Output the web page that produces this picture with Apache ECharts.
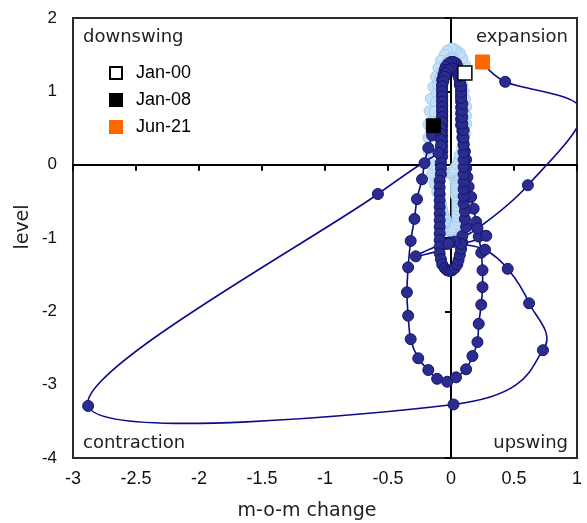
<!DOCTYPE html>
<html>
<head>
<meta charset="utf-8">
<script src="https://cdn.jsdelivr.net/npm/echarts@6/dist/echarts.min.js"></script>
<style>
html,body{margin:0;padding:0;background:#fff;}
#chart{width:587px;height:523px;}
</style>
</head>
<body>
<div id="chart"></div>
<script>
// ---------------- DATA ----------------
const xTicks = [-3, -2.5, -2, -1.5, -1, -0.5, 0, 0.5, 1];
const yTicks = [-4, -3, -2, -1, 0, 1, 2];

// Jan-00 .. Dec-07 (light blue): m-o-m change and level
const lightChange = [
  0.11,0.11,0.09,0.07,0.04,0.02,0.00,-0.03,-0.05,-0.08,-0.10,-0.12,
  -0.14,-0.16,-0.17,-0.18,-0.18,-0.18,-0.17,-0.15,-0.13,-0.11,-0.09,-0.08,
  -0.07,-0.06,-0.05,-0.04,-0.04,-0.03,-0.03,-0.02,-0.02,-0.01,0.00,0.01,
  0.02,0.03,0.04,0.05,0.05,0.05,0.05,0.05,0.05,0.05,0.04,0.04,
  0.04,0.04,0.04,0.04,0.03,0.03,0.02,0.02,0.01,0.00,-0.01,0.01,
  0.00,0.01,0.02,0.03,0.05,0.06,0.07,0.09,0.10,0.11,0.12,0.12,
  0.12,0.11,0.10,0.09,0.08,0.07,0.06,0.05,0.04,0.03,0.02,0.01,
  0.00,-0.01,-0.02,-0.03,-0.05,-0.07,-0.09,-0.10,-0.11,-0.12,-0.13,-0.14
];
const lightLevel = [
  1.25,1.36,1.45,1.52,1.56,1.58,1.58,1.55,1.50,1.42,1.32,1.20,
  1.06,0.90,0.73,0.55,0.37,0.19,0.02,-0.13,-0.26,-0.37,-0.46,-0.54,
  -0.61,-0.67,-0.72,-0.76,-0.80,-0.83,-0.86,-0.88,-0.90,-0.91,-0.91,-0.90,
  -0.88,-0.85,-0.81,-0.76,-0.71,-0.66,-0.61,-0.56,-0.51,-0.46,-0.42,-0.38,
  -0.34,-0.30,-0.26,-0.22,-0.19,-0.16,-0.14,-0.12,-0.11,-0.11,-0.12,-0.11,
  -0.11,-0.10,-0.08,-0.05,0.00,0.06,0.13,0.22,0.32,0.43,0.55,0.67,
  0.79,0.90,1.00,1.09,1.17,1.24,1.30,1.35,1.39,1.42,1.44,1.45,
  1.45,1.44,1.42,1.39,1.34,1.27,1.18,1.08,0.97,0.85,0.72,0.58
];

// Jan-08 .. Jun-21 (dark blue)
const darkChange = [
  -0.14,-0.15,-0.18,-0.21,-0.23,-0.27,-0.29,-0.32,-0.34,-0.35,-0.34,-0.32,
  -0.26,-0.18,-0.11,-0.03,0.04,0.12,0.17,0.21,0.22,0.24,0.25,0.25,
  0.24,0.22,0.20,0.18,0.16,0.14,0.13,0.12,0.12,0.11,0.10,0.09,
  0.09,0.08,0.08,0.08,0.08,0.08,0.08,0.08,0.07,0.07,0.07,0.06,
  0.05,0.04,0.02,0.00,-0.02,-0.04,-0.05,-0.06,-0.07,-0.07,-0.07,-0.07,
  -0.07,-0.07,-0.07,-0.07,-0.07,-0.07,-0.07,-0.07,-0.07,-0.07,-0.07,-0.07,
  -0.08,-0.08,-0.08,-0.09,-0.09,-0.09,-0.09,-0.09,-0.09,-0.09,-0.09,-0.09,
  -0.09,-0.09,-0.09,-0.08,-0.07,-0.05,-0.03,-0.01,0.01,0.03,0.05,0.06,
  0.07,0.08,0.09,0.09,-0.28,0.28,0.12,0.11,0.11,0.10,0.10,0.10,
  0.10,0.10,0.10,0.10,0.10,0.10,0.10,0.10,0.09,0.09,0.09,0.09,
  0.08,0.08,0.08,0.07,0.06,0.05,0.04,0.02,0.00,-0.02,-0.04,-0.05,
  -0.06,-0.07,-0.07,-0.07,-0.07,-0.07,-0.07,-0.07,-0.07,-0.08,-0.08,-0.08,
  -0.08,-0.10,-0.58,-2.88,0.02,0.73,0.62,0.45,0.27,0.08,0.03,-0.01,
  -0.02,0.21,0.61,1.04,0.43,0.25
];
const darkLevel = [
  0.53,0.40,0.23,0.02,-0.20,-0.47,-0.74,-1.04,-1.40,-1.74,-2.06,-2.38,
  -2.64,-2.80,-2.92,-2.96,-2.90,-2.79,-2.61,-2.42,-2.17,-1.91,-1.67,-1.44,
  -1.20,-0.98,-0.78,-0.60,-0.44,-0.30,-0.17,-0.05,0.07,0.18,0.28,0.37,
  0.46,0.54,0.62,0.70,0.78,0.86,0.94,1.02,1.09,1.16,1.23,1.29,
  1.34,1.38,1.40,1.40,1.38,1.34,1.29,1.23,1.16,1.09,1.02,0.95,
  0.88,0.81,0.74,0.67,0.60,0.53,0.46,0.39,0.32,0.25,0.18,0.11,
  0.03,-0.05,-0.13,-0.22,-0.31,-0.40,-0.49,-0.58,-0.67,-0.76,-0.85,-0.94,
  -1.03,-1.12,-1.21,-1.29,-1.36,-1.41,-1.44,-1.45,-1.44,-1.41,-1.36,-1.30,
  -1.23,-1.15,-1.06,-0.97,-1.25,-0.97,-0.85,-0.74,-0.63,-0.53,-0.43,-0.33,
  -0.23,-0.13,-0.03,0.07,0.17,0.27,0.37,0.47,0.56,0.65,0.74,0.83,
  0.91,0.99,1.07,1.14,1.20,1.25,1.29,1.31,1.31,1.29,1.25,1.20,
  1.14,1.07,1.00,0.93,0.86,0.79,0.72,0.65,0.58,0.50,0.42,0.34,
  0.26,0.16,-0.40,-3.29,-3.27,-2.53,-1.89,-1.42,-1.16,-1.08,-1.05,-1.06,
  -1.08,-0.87,-0.28,0.74,1.13,1.40
];

// highlighted months
const markerNames  = ['Jan-00', 'Jan-08', 'Jun-21'];
const markerChange = [0.11, -0.14, 0.25];
const markerLevel  = [1.25, 0.53, 1.40];

const quadrantLabels = ['downswing', 'expansion', 'contraction', 'upswing'];
const xTitle = 'm-o-m change';
const yTitle = 'level';

// ---------------- STYLE ----------------
const markerStyles = [
  {color: '#ffffff', borderColor: '#000000', borderWidth: 1.5, opacity: 1},
  {color: '#000000', borderColor: '#000000', borderWidth: 1, opacity: 1},
  {color: '#ff6600', borderColor: '#ff6600', borderWidth: 1, opacity: 1}
];
const qFont = {fontFamily: 'DejaVu Sans', fontSize: 18, fill: '#222'};

function pairs(xs, ys) { return xs.map((v, i) => [v, ys[i]]); }

// smoothed (Catmull-Rom style) connecting curve, positioned through the axes via api.coord
function curveSeries(pts, color, width, z) {
  return {
    type: 'custom', coordinateSystem: 'cartesian2d', data: pts,
    encode: {x: 0, y: 1}, clip: true, silent: true, z: z,
    renderItem: function (params, api) {
      const i = params.dataIndex;
      if (i === 0) return null;
      const n = pts.length;
      const c = k => api.coord(pts[Math.max(0, Math.min(n - 1, k))]);
      const p0 = c(i - 2), p1 = c(i - 1), p2 = c(i), p3 = c(i + 1);
      const t = 1 / 6;
      return {
        type: 'bezierCurve',
        shape: {
          x1: p1[0], y1: p1[1], x2: p2[0], y2: p2[1],
          cpx1: p1[0] + (p2[0] - p0[0]) * t, cpy1: p1[1] + (p2[1] - p0[1]) * t,
          cpx2: p2[0] - (p3[0] - p1[0]) * t, cpy2: p2[1] - (p3[1] - p1[1]) * t
        },
        style: {stroke: color, lineWidth: width, fill: 'none'}
      };
    }
  };
}

const chart = echarts.init(document.getElementById('chart'), null, {renderer: 'canvas'});

const lightPts = pairs(lightChange, lightLevel);
const darkPts = pairs(darkChange, darkLevel);

const series = [
  curveSeries(lightPts, '#9fc8ec', 1.5, 2),
  {
    name: 'light', type: 'scatter', data: lightPts, symbol: 'circle', symbolSize: 11,
    itemStyle: {color: '#c6e0f6', borderColor: '#a3cdef', borderWidth: 1, opacity: 1},
    z: 2, clip: true, silent: true
  },
  curveSeries(darkPts, '#0c0c88', 1.6, 3),
  {
    name: 'dark', type: 'scatter', data: darkPts, symbol: 'circle', symbolSize: 11,
    itemStyle: {color: '#2b2d8e', borderColor: '#15156e', borderWidth: 1, opacity: 1},
    z: 3, clip: true, silent: true
  }
];
markerNames.forEach((n, i) => {
  series.push({
    name: n, type: 'scatter', data: [[markerChange[i], markerLevel[i]]],
    symbol: 'rect', symbolSize: 14, itemStyle: markerStyles[i], z: 5, silent: true
  });
});

const option = {
  animation: false,
  grid: {left: 73, top: 18, width: 504, height: 440, show: true,
         borderColor: '#2a2a2a', borderWidth: 2, backgroundColor: 'transparent'},
  xAxis: [
    {type: 'value', min: xTicks[0], max: xTicks[xTicks.length - 1], interval: 0.5,
     position: 'bottom',
     axisLine: {show: false, onZero: false}, axisTick: {show: false}, splitLine: {show: false},
     axisLabel: {margin: 12, fontFamily: 'Liberation Sans', fontSize: 18, color: '#111'}},
    {type: 'value', min: xTicks[0], max: xTicks[xTicks.length - 1], interval: 0.5,
     position: 'top',
     axisLine: {show: true, onZero: true, onZeroAxisIndex: 0, lineStyle: {color: '#000', width: 2}},
     axisTick: {show: true, inside: true, length: 6, lineStyle: {color: '#000', width: 2}},
     axisLabel: {show: false}, splitLine: {show: false}}
  ],
  yAxis: [
    {type: 'value', min: yTicks[0], max: yTicks[yTicks.length - 1], interval: 1,
     position: 'left',
     axisLine: {show: false, onZero: false}, axisTick: {show: false}, splitLine: {show: false},
     axisLabel: {margin: 16, fontFamily: 'Liberation Sans', fontSize: 17, color: '#111'}},
    {type: 'value', min: yTicks[0], max: yTicks[yTicks.length - 1], interval: 1,
     position: 'right',
     axisLine: {show: true, onZero: true, onZeroAxisIndex: 0, lineStyle: {color: '#000', width: 2}},
     axisTick: {show: true, inside: true, length: 6, lineStyle: {color: '#000', width: 2}},
     axisLabel: {show: false}, splitLine: {show: false}}
  ],
  legend: {
    data: markerNames, orient: 'vertical', left: 109, top: 64, padding: 0,
    itemWidth: 12, itemHeight: 12, itemGap: 9, icon: 'rect',
    textStyle: {fontFamily: 'Liberation Sans', fontSize: 18, color: '#000', padding: [0, 0, 0, 9]},
    selectedMode: false
  },
  graphic: [
    {type: 'text', left: 83, top: 28, style: Object.assign({text: quadrantLabels[0]}, qFont)},
    {type: 'text', right: 587 - 568, top: 28, style: Object.assign({text: quadrantLabels[1]}, qFont)},
    {type: 'text', left: 83, top: 434, style: Object.assign({text: quadrantLabels[2]}, qFont)},
    {type: 'text', right: 587 - 568, top: 434, style: Object.assign({text: quadrantLabels[3]}, qFont)},
    {type: 'text', x: 307, y: 511, style: {text: xTitle, fontFamily: 'DejaVu Sans', fontSize: 19, fill: '#222', textAlign: 'center', textVerticalAlign: 'middle'}},
    {type: 'text', x: 23, y: 227, rotation: Math.PI / 2, style: {text: yTitle, fontFamily: 'DejaVu Sans', fontSize: 19, fill: '#222', textAlign: 'center', textVerticalAlign: 'middle'}}
  ],
  series: series
};
chart.setOption(option);
</script>
</body>
</html>
